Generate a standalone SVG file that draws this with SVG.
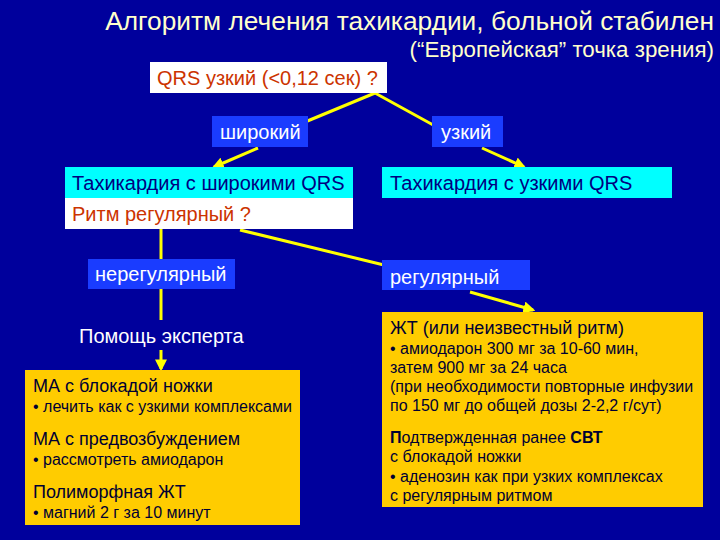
<svg xmlns="http://www.w3.org/2000/svg" width="720" height="540" viewBox="0 0 720 540">
<defs>
<marker id="ah" viewBox="0 0 10 10" refX="8" refY="5" markerWidth="4" markerHeight="4" orient="auto" markerUnits="strokeWidth">
<path d="M0,0 L10,5 L0,10 z" fill="#ffff00"/>
</marker>
<style>
text{font-family:"Liberation Sans",Arial,sans-serif}
.title{fill:#ffffcc}
.lbl{fill:#1a3cff}
.lt{fill:#ffffff;font-size:20px}
.cy{fill:#00ffff}
.cyt{fill:#000080;font-size:20px}
.wh{fill:#ffffff}
.red{fill:#cc3300;font-size:20px}
.yb{fill:#ffcc00}
.h{fill:#000033;font-size:18px}
.s{fill:#000033;font-size:16px}
.ln{stroke:#ffff00;stroke-width:3;fill:none}
.ar{stroke:#ffff00;stroke-width:3;fill:none;marker-end:url(#ah)}
</style>
</defs>
<rect width="720" height="540" fill="#00009c"/>
<g id="title">
<text class="title" x="714" y="30" text-anchor="end" font-size="26.3">Алгоритм лечения тахикардии, больной стабилен</text>
<text class="title" x="714" y="57" text-anchor="end" font-size="22.3">(“Европейская” точка зрения)</text>
</g>
<g id="connectors">
<line class="ln" x1="375" y1="93" x2="305" y2="122"/>
<line class="ln" x1="375" y1="93" x2="435" y2="126"/>
<line class="ar" x1="258" y1="148" x2="214" y2="167"/>
<line class="ar" x1="482" y1="148" x2="524" y2="167"/>
<line class="ln" x1="161" y1="229" x2="161" y2="260"/>
<line class="ln" x1="161" y1="289" x2="161" y2="320"/>
<line class="ar" x1="161" y1="350" x2="161" y2="369"/>
<line class="ln" x1="240" y1="230" x2="384" y2="265"/>
<line class="ar" x1="470" y1="292" x2="533" y2="310"/>
</g>
<g id="qrs">
<rect class="wh" x="150" y="62" width="237" height="31"/>
<text class="red" x="157" y="85" font-size="20.5">QRS узкий (&lt;0,12 сек) ?</text>
</g>
<g id="wide">
<rect class="lbl" x="212" y="116" width="96" height="31"/>
<text class="lt" x="220" y="139">широкий</text>
</g>
<g id="narrow">
<rect class="lbl" x="432" y="116" width="71" height="31"/>
<text class="lt" x="441" y="139">узкий</text>
</g>
<g id="wide-qrs">
<rect class="cy" x="65" y="167" width="288" height="31"/>
<text class="cyt" x="72" y="190">Тахикардия с широкими QRS</text>
<rect class="wh" x="65" y="198" width="288" height="31"/>
<text class="red" x="72" y="221">Ритм регулярный ?</text>
</g>
<g id="narrow-qrs">
<rect class="cy" x="382" y="167" width="290" height="31"/>
<text class="cyt" x="390" y="190">Тахикардия с узкими QRS</text>
</g>
<g id="irregular">
<rect class="lbl" x="88" y="259" width="147" height="30"/>
<text class="lt" x="95" y="281">нерегулярный</text>
</g>
<g id="expert">
<text class="lt" x="79" y="343">Помощь эксперта</text>
</g>
<g id="regular">
<rect class="lbl" x="382" y="260" width="148" height="30"/>
<text class="lt" x="390" y="284">регулярный</text>
</g>
<g id="left-box">
<rect class="yb" x="25" y="370" width="275" height="155"/>
<text class="h" x="33" y="392">МА с блокадой ножки</text>
<text class="s" x="33" y="412">• лечить как с узкими комплексами</text>
<text class="h" x="33" y="445">МА с предвозбуждением</text>
<text class="s" x="33" y="465">• рассмотреть амиодарон</text>
<text class="h" x="33" y="498">Полиморфная ЖТ</text>
<text class="s" x="33" y="518">• магний 2 г за 10 минут</text>
</g>
<g id="right-box">
<rect class="yb" x="382" y="312" width="321" height="195"/>
<text class="h" x="390" y="334">ЖТ (или неизвестный ритм)</text>
<text class="s" x="390" y="354">• амиодарон 300 мг за 10-60 мин,</text>
<text class="s" x="390" y="373">затем 900 мг за 24 часа</text>
<text class="s" x="390" y="392">(при необходимости повторные инфузии</text>
<text class="s" x="390" y="411">по 150 мг до общей дозы 2-2,2 г/сут)</text>
<text class="s" x="390" y="443"><tspan font-weight="bold">П</tspan>одтвержденная ранее <tspan font-weight="bold">СВТ</tspan></text>
<text class="s" x="390" y="462">с блокадой ножки</text>
<text class="s" x="390" y="482">• аденозин как при узких комплексах</text>
<text class="s" x="390" y="501">с регулярным ритмом</text>
</g>
</svg>
